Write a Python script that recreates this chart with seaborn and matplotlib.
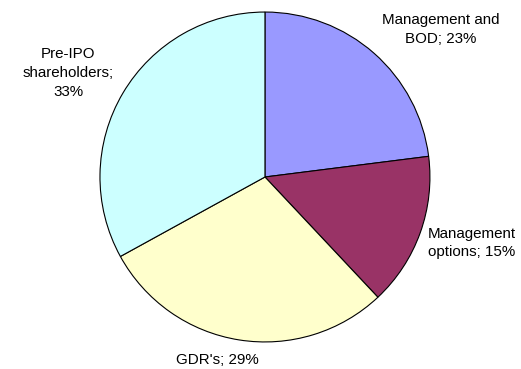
import matplotlib
matplotlib.use("Agg")
import matplotlib.pyplot as plt
import seaborn as sns

# Ownership structure after the offering
categories = ["Management and\nBOD", "Management\noptions", "GDR's", "Pre-IPO\nshareholders"]
shares = [23, 15, 29, 33]
separators = ["; ", "; ", "; ", ";\n"]
colors = ["#9999FF", "#993366", "#FFFFCC", "#CCFFFF"]

sns.set_theme(style="white")
plt.rcParams["font.family"] = ["Liberation Sans", "DejaVu Sans"]

fig = plt.figure(figsize=(5.21, 3.69), dpi=100)
ax = fig.add_axes([0, 0, 1, 1])

wedges, _ = ax.pie(
    shares,
    colors=colors,
    startangle=90,
    counterclock=False,
    radius=1.0,
    center=(0, 0),
    wedgeprops=dict(edgecolor="black", linewidth=0.8),
    frame=False,
)

# Label positions (in units of the pie radius)
label_pos = [(1.065, 0.897), (1.255, -0.400), (-0.291, -1.109), (-1.194, 0.630)]
for name, val, sep, (x, y) in zip(categories, shares, separators, label_pos):
    ax.text(x, y, f"{name}{sep}{val}%", ha="center", va="center",
            fontsize=10.9, color="black", linespacing=1.45)

ax.set_xlim(-1.606, 1.552)
ax.set_ylim(-1.164, 1.073)
ax.set_aspect("auto")
ax.axis("off")

fig.savefig("out.png", dpi=100, facecolor="white")
